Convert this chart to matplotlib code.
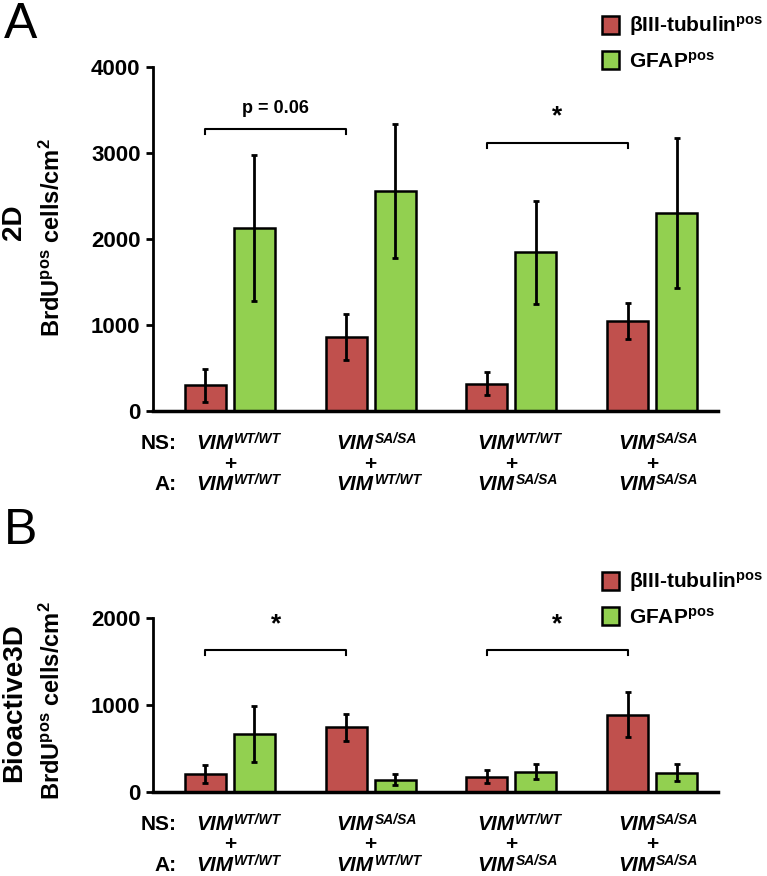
import matplotlib.pyplot as plt
from matplotlib import font_manager
from matplotlib.patches import Patch

names = {f.name for f in font_manager.fontManager.ttflist}
narrow = 'Liberation Sans Narrow' if 'Liberation Sans Narrow' in names else 'Liberation Sans'

plt.rcParams['font.family'] = [narrow, 'DejaVu Sans']
plt.rcParams['font.weight'] = 'bold'
plt.rcParams['mathtext.fontset'] = 'custom'
plt.rcParams['mathtext.rm'] = narrow + ':bold'
plt.rcParams['mathtext.it'] = narrow + ':italic:bold'
plt.rcParams['mathtext.bf'] = narrow + ':bold'

# data
ns_labels = ['WT/WT', 'SA/SA', 'WT/WT', 'SA/SA']
a_labels = ['WT/WT', 'WT/WT', 'SA/SA', 'SA/SA']

tub_2d = [300, 860, 315, 1045]
tub_2d_err = [190, 265, 133, 210]
gfap_2d = [2125, 2555, 1845, 2305]
gfap_2d_err = [850, 780, 595, 870]

tub_3d = [205, 745, 175, 890]
tub_3d_err = [100, 155, 75, 255]
gfap_3d = [665, 142, 235, 223]
gfap_3d_err = [323, 62, 90, 96]

red = '#C0504D'
green = '#92D050'

fig = plt.figure(figsize=(7.67, 8.76), dpi=100)
axA = fig.add_axes([153/767, 1-411/876, 565/767, 344/876])
axB = fig.add_axes([153/767, 1-792/876, 565/767, 174/876])

w = 0.29
off = 0.174
x = list(range(4))


def genotype(ax, i, sup, dy):
    # "VIM" with its superscript drawn as two texts
    ax.annotate('VIM', xy=(i, 0), xycoords=('data', 'axes fraction'), xytext=(3, dy),
                textcoords='offset pixels', ha='right', va='baseline', fontsize=15, style='italic')
    ax.annotate(sup, xy=(i, 0), xycoords=('data', 'axes fraction'), xytext=(4, dy + 6),
                textcoords='offset pixels', ha='left', va='baseline', fontsize=10, style='italic')


def draw_panel(ax, tub, tub_err, gfap, gfap_err, ymax, step):
    ekw = dict(elinewidth=2, capthick=2, ecolor='black')
    ax.bar([i - off for i in x], tub, w, color=red, edgecolor='black', linewidth=1.8,
           yerr=tub_err, capsize=2.5, error_kw=ekw, zorder=2)
    ax.bar([i + off for i in x], gfap, w, color=green, edgecolor='black', linewidth=1.8,
           yerr=gfap_err, capsize=2.5, error_kw=ekw, zorder=2)
    ax.set_xlim(-0.546, 3.468)
    ax.set_ylim(0, ymax)
    ax.set_yticks(range(0, ymax + 1, step))
    ax.set_xticks([])
    for s in ['top', 'right']:
        ax.spines[s].set_visible(False)
    ax.spines['left'].set_linewidth(2)
    ax.spines['bottom'].set_linewidth(2.5)
    ax.tick_params(axis='y', length=5, width=2, labelsize=16, pad=4)
    for lab in ax.get_yticklabels():
        lab.set_fontweight('bold')

    # genotype labels below the axis
    ax.annotate('NS:', xy=(-0.376, 0), xycoords=('data', 'axes fraction'),
                xytext=(0, -38), textcoords='offset pixels', ha='right', va='baseline', fontsize=15)
    ax.annotate('A:', xy=(-0.376, 0), xycoords=('data', 'axes fraction'),
                xytext=(0, -79), textcoords='offset pixels', ha='right', va='baseline', fontsize=15)
    for i in x:
        genotype(ax, i, ns_labels[i], -38)
        ax.annotate('+', xy=(i, 0), xycoords=('data', 'axes fraction'),
                    xytext=(0, -53), textcoords='offset pixels', ha='center', va='center', fontsize=15)
        genotype(ax, i, a_labels[i], -79)


def bracket(ax, x0, x1, y, drop, text, ty, size):
    ax.plot([x0, x0, x1, x1], [y - drop, y, y, y - drop], color='black', lw=1.5, zorder=3)
    ax.text((x0 + x1) / 2, ty, text, ha='center', va='center', fontsize=size, fontweight='bold')


draw_panel(axA, tub_2d, tub_2d_err, gfap_2d, gfap_2d_err, 4000, 1000)
draw_panel(axB, tub_3d, tub_3d_err, gfap_3d, gfap_3d_err, 2000, 1000)

bracket(axA, 0 - off, 1 - off, 3280, 60, 'p = 0.06', 3520, 13)
bracket(axA, 2 - off, 3 - off, 3115, 60, '*', 3430, 19)
bracket(axB, 0 - off, 1 - off, 1635, 60, '*', 1930, 19)
bracket(axB, 2 - off, 3 - off, 1635, 60, '*', 1930, 19)

# legends
handles = [Patch(facecolor=red, edgecolor='black', linewidth=1.8),
           Patch(facecolor=green, edgecolor='black', linewidth=1.8)]
labels = [r'βIII-tubulin$^{\mathrm{pos}}$', r'GFAP$^{\mathrm{pos}}$']
for top in [6, 562]:
    fig.legend(handles, labels, loc='upper left', bbox_to_anchor=(594/767, 1 - top/876),
               frameon=False, fontsize=15, handlelength=0.8, handleheight=1.0,
               handletextpad=0.5, labelspacing=0.6, borderaxespad=0)

# y labels
fig.text(14/767, 1 - 222/876, '2D', rotation=90, ha='center', va='center',
         fontsize=20, fontweight='bold', family='Liberation Sans')
fig.text(52/767, 1 - 238/876, r'BrdU$^{\mathrm{pos}}$ cells/cm$^{\mathrm{2}}$', rotation=90,
         ha='center', va='center', fontsize=17, fontweight='bold', family='Liberation Sans')
fig.text(14/767, 1 - 703/876, 'Bioactive3D', rotation=90, ha='center', va='center',
         fontsize=20, fontweight='bold', family='Liberation Sans')
fig.text(52/767, 1 - 701/876, r'BrdU$^{\mathrm{pos}}$ cells/cm$^{\mathrm{2}}$', rotation=90,
         ha='center', va='center', fontsize=17, fontweight='bold', family='Liberation Sans')

# panel letters
fig.text(4/767, 1 - 2/876, 'A', ha='left', va='top', fontsize=36, family='Liberation Sans', fontweight='normal')
fig.text(4/767, 1 - 508/876, 'B', ha='left', va='top', fontsize=36, family='Liberation Sans', fontweight='normal')

fig.savefig('out.png', dpi=100)
